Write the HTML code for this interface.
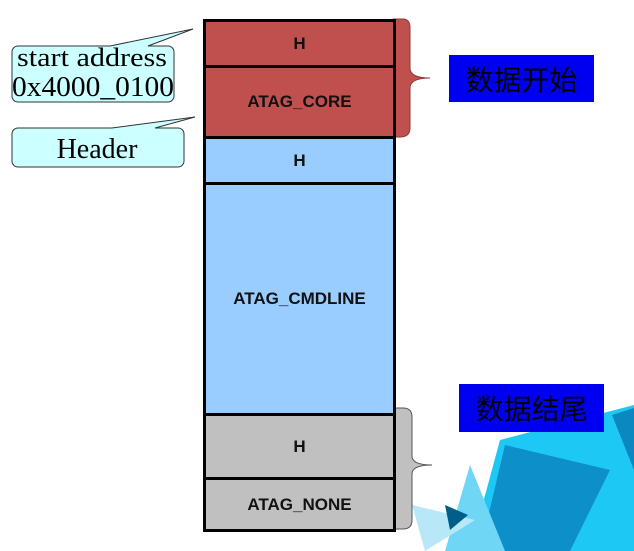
<!DOCTYPE html>
<html><head><meta charset="utf-8"><style>
body{margin:0;width:634px;height:551px;overflow:hidden;background:#fff;position:relative;font-family:"Liberation Sans","Noto Sans CJK SC",sans-serif}
.r{position:absolute;left:203px;width:187px;border:3px solid #000;border-bottom:none;box-sizing:content-box;display:flex;align-items:center;justify-content:center;font-weight:bold;font-size:17px;color:#111}
.cn{position:absolute;background:#0000f0;color:#000;font-family:"Noto Sans CJK SC",sans-serif;font-size:28px;display:flex;align-items:center;justify-content:center}
</style></head><body>
<svg width="634" height="551" style="position:absolute;left:0;top:0">
<polygon points="500,440 634,405 634,551 470,551" fill="#1ec8f5"/>
<polygon points="505,445 610,470 570,551 480,551" fill="#0d8fc9"/>
<polygon points="612,415 634,408 634,470" fill="#0b88c0"/>
<polygon points="470,465 445,551 505,551" fill="#6fd6f6"/>
<polygon points="412,505 475,520 425,551" fill="#b8e8f8"/>
<polygon points="445,505 468,515 450,530" fill="#005f8a"/>
<!-- callouts -->
<path d="M18,46 H110 L193,29 L148,46 H168 a6,6 0 0 1 6,6 v44 a6,6 0 0 1 -6,6 H18 a6,6 0 0 1 -6,-6 V52 a6,6 0 0 1 6,-6z" fill="#ccffff" stroke="#333" stroke-width="1"/>
<path d="M18,128 H112 L195,117 L155,128 H178 a6,6 0 0 1 6,6 v27 a6,6 0 0 1 -6,6 H18 a6,6 0 0 1 -6,-6 V134 a6,6 0 0 1 6,-6z" fill="#ccffff" stroke="#333" stroke-width="1"/>
<text x="92" y="66" font-family="Liberation Serif" font-size="26" text-anchor="middle" textLength="150" lengthAdjust="spacingAndGlyphs">start address</text>
<text x="93" y="96" font-family="Liberation Serif" font-size="28" text-anchor="middle" textLength="162" lengthAdjust="spacingAndGlyphs">0x4000_0100</text>
<text x="97" y="158" font-family="Liberation Serif" font-size="28" text-anchor="middle">Header</text>
<!-- braces -->
<path d="M393,19 H403 Q410,19 410,28 V68 Q410,78 430,78 Q410,78 410,88 V128 Q410,137 400,137 H393z" fill="#c0504d" stroke="#8b3a38" stroke-width="1"/>
<path d="M393,408 H403 Q412,408 412,417 V456 Q412,465 432,465 Q412,465 412,474 V520 Q412,529 403,529 H393z" fill="#c0c0c0" stroke="#555" stroke-width="1"/>
</svg>
<div class="r" style="top:19px;height:44px;background:#c0504d">H</div>
<div class="r" style="top:65px;height:68px;background:#c0504d">ATAG_CORE</div>
<div class="r" style="top:136px;height:43px;background:#99ccff">H</div>
<div class="r" style="top:182px;height:228px;background:#99ccff">ATAG_CMDLINE</div>
<div class="r" style="top:413px;height:61px;background:#c0c0c0">H</div>
<div class="r" style="top:477px;height:49px;background:#c0c0c0;border-bottom:3px solid #000">ATAG_NONE</div>
<div class="cn" style="left:449px;top:55px;width:145px;height:47px">数据开始</div>
<div class="cn" style="left:459px;top:384px;width:145px;height:48px">数据结尾</div>
</body></html>
